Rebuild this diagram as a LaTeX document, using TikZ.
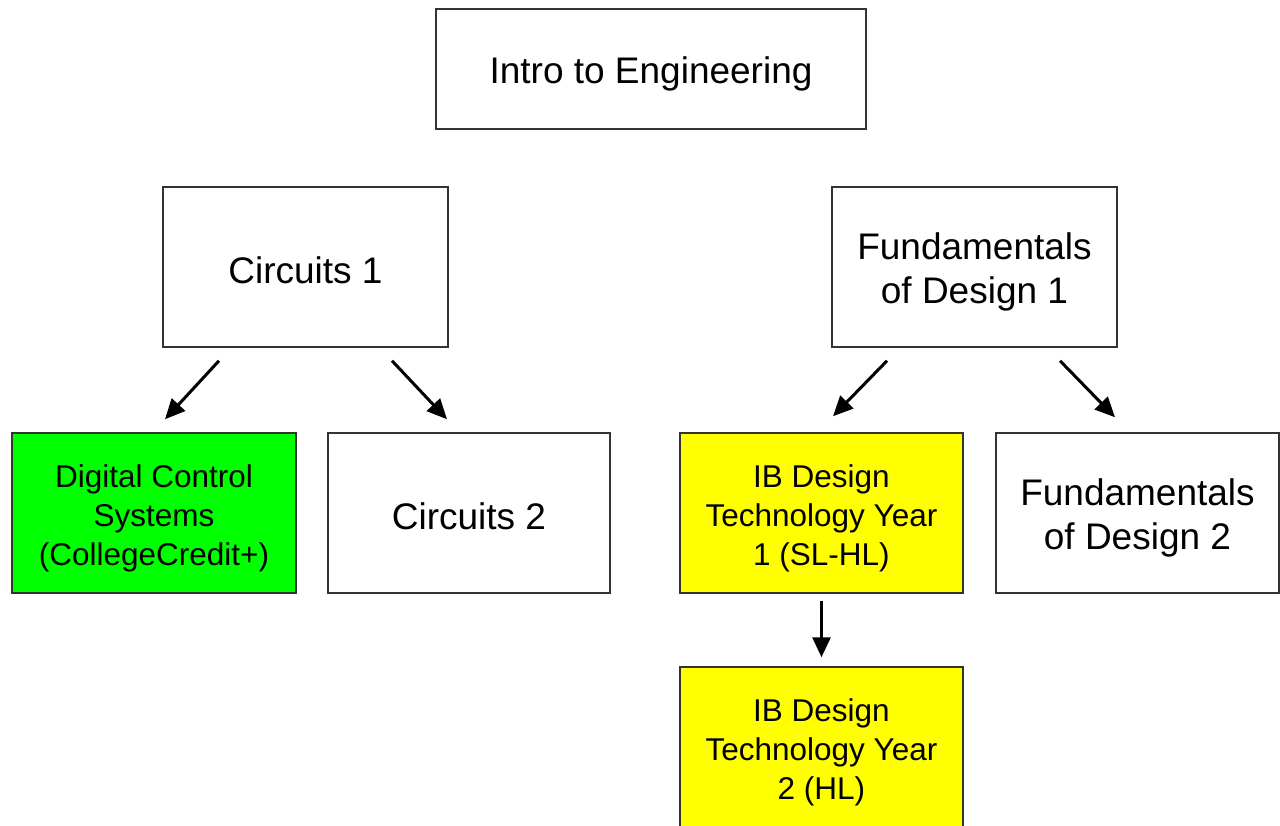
\documentclass[tikz,border=0pt]{standalone}
\usepackage{fontspec}
\setmainfont{Liberation Sans}
\usetikzlibrary{arrows.meta}
\definecolor{boxline}{HTML}{333333}
\definecolor{credit}{HTML}{00FF00}
\definecolor{ibyellow}{HTML}{FFFF00}
\tikzset{
  course/.style={draw=boxline, line width=1.5pt, fill=white, inner sep=0pt},
  big/.style={align=center, inner sep=0pt, yshift=-5pt, font=\fontsize{37}{44}\selectfont},
  small/.style={align=center, inner sep=0pt, yshift=-5pt, font=\fontsize{31.5}{39}\selectfont},
  arr/.style={-{Triangle[length=20pt,width=18pt]}, line width=3pt, black},
}
\begin{document}
\begin{tikzpicture}[x=1pt,y=-1pt]
\useasboundingbox (0,0) rectangle (1280,825);
\clip (0,0) rectangle (1280,825);

% top level
\node[course, minimum width=430pt, minimum height=120pt,
  label={[big]center:Intro to Engineering}] (intro) at (651,69) {};

% second level
\node[course, minimum width=285pt, minimum height=160pt,
  label={[big, yshift=2pt]center:Circuits 1}] (c1) at (305.5,267) {};
\node[course, minimum width=285pt, minimum height=160pt,
  label={[big]center:{Fundamentals\\of Design 1}}] (fd1) at (974.5,267) {};

% third level
\node[course, fill=credit, minimum width=284pt, minimum height=160pt,
  label={[small]center:{Digital Control\\Systems\\(CollegeCredit+)}}] (dcs) at (154,513) {};
\node[course, minimum width=282pt, minimum height=160pt,
  label={[big, yshift=2pt]center:Circuits 2}] (c2) at (469,513) {};
\node[course, fill=ibyellow, minimum width=283pt, minimum height=160pt,
  label={[small]center:{IB Design\\Technology Year\\1 (SL-HL)}}] (ib1) at (821.5,513) {};
\node[course, minimum width=283pt, minimum height=160pt,
  label={[big]center:{Fundamentals\\of Design 2}}] (fd2) at (1137.5,513) {};

% fourth level (runs past the lower edge)
\node[course, fill=ibyellow, minimum width=283pt, minimum height=160pt,
  label={[small]center:{IB Design\\Technology Year\\2 (HL)}}] (ib2) at (821.5,747) {};

% connectors
\draw[arr] ([xshift=-86.5pt,yshift=-13pt]c1.south) -- ([xshift=11pt,yshift=13pt]dcs.north);
\draw[arr] ([xshift=86.5pt,yshift=-13pt]c1.south) -- ([xshift=-22pt,yshift=13pt]c2.north);
\draw[arr] ([xshift=-87.5pt,yshift=-13pt]fd1.south) -- ([xshift=11.5pt,yshift=16pt]ib1.north);
\draw[arr] ([xshift=85.5pt,yshift=-13pt]fd1.south) -- ([xshift=-22.5pt,yshift=15pt]fd2.north);
\draw[arr] ([yshift=-7pt]ib1.south) -- ([yshift=9pt]ib2.north);
\end{tikzpicture}
\end{document}
